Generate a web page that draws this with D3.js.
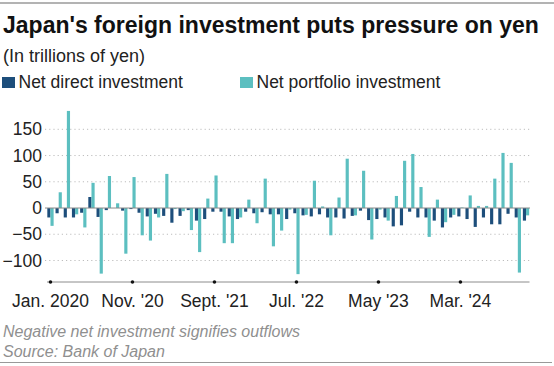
<!DOCTYPE html>
<html>
<head>
<meta charset="utf-8">
<script src="https://cdn.jsdelivr.net/npm/d3@7"></script>
<style>
  html, body { margin: 0; padding: 0; background: #fff; }
  svg { display: block; font-family: "Liberation Sans", Arial, sans-serif; }
</style>
</head>
<body>
<svg id="chart" width="554" height="366"></svg>
<script>
const months = [
  "2020-01","2020-02","2020-03","2020-04","2020-05","2020-06","2020-07","2020-08","2020-09","2020-10","2020-11","2020-12",
  "2021-01","2021-02","2021-03","2021-04","2021-05","2021-06","2021-07","2021-08","2021-09","2021-10","2021-11","2021-12",
  "2022-01","2022-02","2022-03","2022-04","2022-05","2022-06","2022-07","2022-08","2022-09","2022-10","2022-11","2022-12",
  "2023-01","2023-02","2023-03","2023-04","2023-05","2023-06","2023-07","2023-08","2023-09","2023-10","2023-11","2023-12",
  "2024-01","2024-02","2024-03","2024-04","2024-05","2024-06","2024-07","2024-08","2024-09","2024-10","2024-11"
];
const netDirect = [
  -18,-10,-18,-18,-9,21,-17,-4,0,-5,
  -2,-9,-16,-11,-15,-28,-15,-4,-24,-21,
  -7,-7,-16,-21,-7,-10,-8,-12,-12,-21,
  -10,-14,-16,-12,-18,-18,-20,-15,-5,-23,
  -21,-18,-35,-33,-7,-18,-18,-24,-37,-18,
  -16,-21,-36,-18,-31,-31,-11,-18,-24
];
const netPortfolio = [
  -34,30,185,-12,-37,48,-125,61,9,-87,
  59,-52,-62,-18,65,-2,-6,-42,-84,18,
  62,-67,-67,-18,16,-29,56,-73,-43,-3,
  -126,-13,52,3,-52,20,94,-14,71,-60,
  -3,-24,23,90,103,40,-55,16,-27,-13,
  1,24,4,4,56,105,86,-123,-14
];
const tickMonths = ["2020-01","2020-11","2021-09","2022-07","2023-05","2024-03"];
const tickLabels = ["Jan. 2020","Nov. '20","Sept. '21","Jul. '22","May '23","Mar. '24"];
const yTicks = [-100,-50,0,50,100,150];
const seriesNames = ["Net direct investment","Net portfolio investment"];
const seriesKeys = ["direct","portfolio"];
const colors = ["#1d4e7b","#5cbfc0"];

const rows = months.map((m, i) => ({month: m, direct: netDirect[i], portfolio: netPortfolio[i]}));

const svg = d3.select("#chart");

// top and bottom rules
svg.append("line").attr("x1", 0).attr("x2", 554).attr("y1", 3).attr("y2", 3)
  .attr("stroke", "#b3b3b3").attr("stroke-width", 2);
svg.append("line").attr("x1", 0).attr("x2", 552).attr("y1", 362.5).attr("y2", 362.5)
  .attr("stroke", "#999").attr("stroke-width", 1);

// title
svg.append("text").attr("x", 3).attr("y", 33)
  .attr("font-size", 23).attr("font-weight", "bold").attr("fill", "#111")
  .text("Japan's foreign investment puts pressure on yen");
svg.append("text").attr("x", 3).attr("y", 62)
  .attr("font-size", 18).attr("fill", "#222")
  .text("(In trillions of yen)");

// legend
const legendX = [2, 240];
seriesNames.forEach((name, i) => {
  svg.append("rect").attr("x", legendX[i]).attr("y", 77).attr("width", 13).attr("height", 11)
    .attr("fill", colors[i]);
  svg.append("text").attr("x", legendX[i] + 16.5).attr("y", 87.5)
    .attr("font-size", 17.5).attr("fill", "#222").text(name);
});

// scales
const x = d3.scaleBand().domain(months).range([46.5, 530]).paddingInner(0.23).paddingOuter(0.1);
const x1 = d3.scaleBand().domain(seriesKeys).range([0, x.bandwidth()]).padding(0);
const y = d3.scaleLinear().domain([-100, 150]).range([260.5, 129.3]);

// gridlines
const gridG = svg.append("g");
gridG.selectAll("line.grid").data(yTicks.filter(d => d !== 0)).join("line")
  .attr("class", "grid")
  .attr("x1", 45).attr("x2", 530)
  .attr("y1", d => y(d)).attr("y2", d => y(d))
  .attr("stroke", "#bdbdbd").attr("stroke-width", 1).attr("stroke-dasharray", "1.2,3");

// y axis labels
const yAxis = d3.axisLeft(y).tickValues(yTicks).tickSize(0).tickPadding(0).tickFormat(d3.format("d"));
const yG = svg.append("g").attr("transform", "translate(42,0)").call(yAxis);
yG.select(".domain").remove();
yG.selectAll("text").attr("font-size", 17.5).attr("fill", "#222")
  .attr("font-family", "'Liberation Sans', Arial, sans-serif");

// bars
const barsG = svg.append("g");
barsG.selectAll("g").data(rows).join("g")
  .attr("transform", d => `translate(${x(d.month)},0)`)
  .selectAll("rect").data(d => seriesKeys.map((k, i) => ({key: k, value: d[k], i})))
  .join("rect")
  .attr("x", d => x1(d.key))
  .attr("width", x1.bandwidth())
  .attr("y", d => y(Math.max(0, d.value)))
  .attr("height", d => Math.abs(y(d.value) - y(0)))
  .attr("fill", d => colors[d.i]);

// zero line
svg.append("line").attr("x1", 45).attr("x2", 530).attr("y1", y(0)).attr("y2", y(0))
  .attr("stroke", "#8a8a8a").attr("stroke-width", 1);

// x axis
const axisY = 282;
svg.append("line").attr("x1", 47).attr("x2", 529.5).attr("y1", axisY).attr("y2", axisY)
  .attr("stroke", "#8c8c8c").attr("stroke-width", 1);
const xAxis = d3.axisBottom(x).tickValues(tickMonths).tickSize(0).tickPadding(0)
  .tickFormat((d, i) => tickLabels[i]);
const xG = svg.append("g").attr("transform", `translate(0,${axisY})`).call(xAxis);
xG.select(".domain").remove();
xG.selectAll(".tick").append("circle").attr("r", 1.8).attr("fill", "#111");
xG.selectAll("text").attr("font-size", 17.5).attr("fill", "#222").attr("dy", 0).attr("y", 24.5)
  .attr("font-family", "'Liberation Sans', Arial, sans-serif");

// footnotes
svg.append("text").attr("x", 3).attr("y", 337)
  .attr("font-size", 16).attr("font-style", "italic").attr("fill", "#8f8f8f")
  .text("Negative net investment signifies outflows");
svg.append("text").attr("x", 3).attr("y", 356.5)
  .attr("font-size", 16).attr("font-style", "italic").attr("fill", "#8f8f8f")
  .text("Source: Bank of Japan");
</script>
</body>
</html>
